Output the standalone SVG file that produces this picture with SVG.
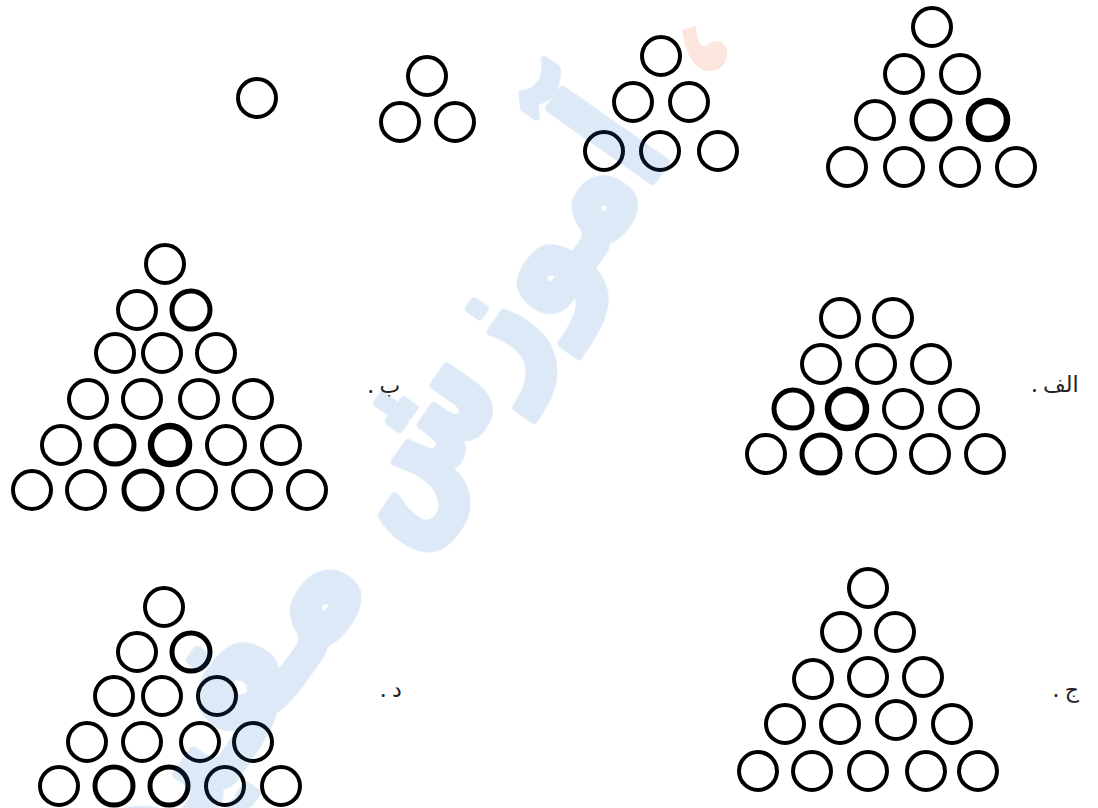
<svg xmlns="http://www.w3.org/2000/svg" width="1098" height="808" viewBox="0 0 1098 808">
<style>
.c{fill:none;stroke:#000;stroke-width:4}
.m{stroke-width:5}
.k{stroke-width:6.5}
.lbl{font-family:"Noto Sans","DejaVu Sans",sans-serif;font-size:22px;fill:#222}
.wm{font-family:"DejaVu Sans","Noto Sans",sans-serif;font-weight:bold;font-size:165px;fill:#1e6ec8;stroke:#1e6ec8;stroke-width:9;stroke-linejoin:round}
</style>
<rect width="1098" height="808" fill="#fff"/>
<g id="seq-1">
<circle class="c" cx="257" cy="98" r="19"/>
</g>
<g id="seq-3">
<circle class="c" cx="427" cy="76" r="19"/>
<circle class="c" cx="400" cy="122" r="19"/>
<circle class="c" cx="455" cy="122" r="19"/>
</g>
<g id="seq-6">
<circle class="c" cx="661" cy="56" r="19"/>
<circle class="c" cx="633" cy="102" r="19"/>
<circle class="c" cx="689" cy="102" r="19"/>
<circle class="c" cx="604" cy="151" r="19"/>
<circle class="c" cx="660" cy="151" r="19"/>
<circle class="c" cx="718" cy="151" r="19"/>
</g>
<g id="seq-10">
<circle class="c" cx="932" cy="27" r="19"/>
<circle class="c" cx="904" cy="74" r="19"/>
<circle class="c" cx="960" cy="74" r="19"/>
<circle class="c" cx="875" cy="120" r="19"/>
<circle class="c m" cx="931" cy="120" r="19"/>
<circle class="c k" cx="988" cy="120" r="19"/>
<circle class="c" cx="847" cy="167" r="19"/>
<circle class="c" cx="904" cy="167" r="19"/>
<circle class="c" cx="960" cy="167" r="19"/>
<circle class="c" cx="1016" cy="167" r="19"/>
</g>
<g id="option-be">
<circle class="c" cx="165" cy="264" r="19"/>
<circle class="c" cx="137" cy="310" r="19"/>
<circle class="c m" cx="191" cy="310" r="19"/>
<circle class="c" cx="115" cy="353" r="19"/>
<circle class="c" cx="162" cy="353" r="19"/>
<circle class="c" cx="216" cy="353" r="19"/>
<circle class="c" cx="88" cy="399" r="19"/>
<circle class="c" cx="142" cy="399" r="19"/>
<circle class="c" cx="199" cy="399" r="19"/>
<circle class="c" cx="253" cy="399" r="19"/>
<circle class="c" cx="61" cy="445" r="19"/>
<circle class="c m" cx="115" cy="445" r="19"/>
<circle class="c k" cx="170" cy="445" r="19"/>
<circle class="c" cx="226" cy="445" r="19"/>
<circle class="c" cx="281" cy="445" r="19"/>
<circle class="c" cx="32" cy="490" r="19"/>
<circle class="c" cx="86" cy="490" r="19"/>
<circle class="c m" cx="143" cy="490" r="19"/>
<circle class="c" cx="197" cy="490" r="19"/>
<circle class="c" cx="252" cy="490" r="19"/>
<circle class="c" cx="307" cy="490" r="19"/>
<text class="lbl" x="384" y="393" direction="rtl" text-anchor="middle">ب .</text>
</g>
<g id="option-alef">
<circle class="c" cx="840" cy="318" r="19"/>
<circle class="c" cx="893" cy="318" r="19"/>
<circle class="c" cx="821" cy="364" r="19"/>
<circle class="c" cx="876" cy="364" r="19"/>
<circle class="c" cx="931" cy="364" r="19"/>
<circle class="c m" cx="793" cy="409" r="19"/>
<circle class="c k" cx="847" cy="409" r="19"/>
<circle class="c" cx="903" cy="409" r="19"/>
<circle class="c" cx="959" cy="409" r="19"/>
<circle class="c" cx="766" cy="454" r="19"/>
<circle class="c m" cx="821" cy="454" r="19"/>
<circle class="c" cx="876" cy="454" r="19"/>
<circle class="c" cx="930" cy="454" r="19"/>
<circle class="c" cx="985" cy="454" r="19"/>
<text class="lbl" x="1055" y="392" direction="rtl" text-anchor="middle">الف .</text>
</g>
<g id="option-jim">
<circle class="c" cx="868" cy="588" r="19"/>
<circle class="c" cx="841" cy="632" r="19"/>
<circle class="c" cx="895" cy="632" r="19"/>
<circle class="c" cx="813" cy="679" r="19"/>
<circle class="c" cx="868" cy="677" r="19"/>
<circle class="c" cx="923" cy="677" r="19"/>
<circle class="c" cx="785" cy="724" r="19"/>
<circle class="c" cx="840" cy="724" r="19"/>
<circle class="c" cx="896" cy="720" r="19"/>
<circle class="c" cx="952" cy="724" r="19"/>
<circle class="c" cx="758" cy="771" r="19"/>
<circle class="c" cx="812" cy="771" r="19"/>
<circle class="c" cx="868" cy="771" r="19"/>
<circle class="c" cx="926" cy="771" r="19"/>
<circle class="c" cx="978" cy="771" r="19"/>
<text class="lbl" x="1066" y="697" direction="rtl" text-anchor="middle">ج .</text>
</g>
<g id="option-dal">
<circle class="c" cx="164" cy="607" r="19"/>
<circle class="c" cx="137" cy="652" r="19"/>
<circle class="c m" cx="191" cy="652" r="19"/>
<circle class="c" cx="114" cy="696" r="19"/>
<circle class="c" cx="162" cy="696" r="19"/>
<circle class="c" cx="217" cy="696" r="19"/>
<circle class="c" cx="87" cy="742" r="19"/>
<circle class="c" cx="142" cy="742" r="19"/>
<circle class="c" cx="200" cy="742" r="19"/>
<circle class="c" cx="253" cy="742" r="19"/>
<circle class="c" cx="59" cy="786" r="19"/>
<circle class="c m" cx="114" cy="786" r="19"/>
<circle class="c m" cx="169" cy="786" r="19"/>
<circle class="c" cx="225" cy="786" r="19"/>
<circle class="c" cx="281" cy="786" r="19"/>
<text class="lbl" x="391" y="697" direction="rtl" text-anchor="middle">د .</text>
</g>
<g id="watermark" opacity="0.15">
<g transform="translate(672,152) rotate(-55)">
<text class="wm" x="0" y="0" direction="rtl" text-anchor="start" textLength="480" lengthAdjust="spacingAndGlyphs">آموزش</text>
<text class="wm" x="-525" y="0" direction="rtl" text-anchor="start">مفید</text>
</g>
<path d="M682,30 L696,26 C697,40 700,48 706,46 C712,40 724,38 727,50 C729,62 720,72 708,71 C694,69 686,55 682,30 Z" fill="#f05a1e"/>
</g>
</svg>
